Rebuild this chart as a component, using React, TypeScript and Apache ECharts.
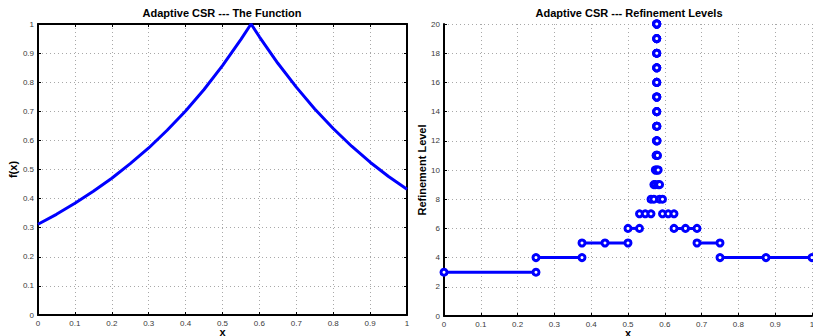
import React, { useEffect, useRef } from "react";
import * as echarts from "echarts";

// ---- Left panel: the function f(x) ----
const fxX = [0, 0.05, 0.1, 0.15, 0.2, 0.25, 0.3, 0.35, 0.4, 0.45, 0.5, 0.55, 0.5774, 0.6, 0.65, 0.7, 0.75, 0.8, 0.85, 0.9, 0.95, 1];
const fxY = [0.312, 0.346, 0.384, 0.425, 0.47, 0.52, 0.574, 0.635, 0.701, 0.775, 0.857, 0.947, 1.0, 0.956, 0.865, 0.783, 0.708, 0.641, 0.58, 0.525, 0.476, 0.432];

// ---- Right panel: refinement levels, one segment per run of leaf cells ----
const segLevels = [3, 4, 4, 5, 5, 6, 6, 7, 7, 8, 8, 9, 9, 10, 10, 11, 11, 12, 12, 13, 13, 14, 14, 15, 15, 16, 16, 17, 17, 18, 18, 19, 19, 20];
const segPoints = [
  [0, 0.25],
  [0.25, 0.375],
  [0.75, 0.875, 1],
  [0.375, 0.4375, 0.5],
  [0.6875, 0.75],
  [0.5, 0.53125],
  [0.625, 0.65625, 0.6875],
  [0.53125, 0.546875, 0.5625],
  [0.59375, 0.609375, 0.625],
  [0.5625, 0.5703],
  [0.5859, 0.59375],
  [0.5703, 0.5742],
  [0.582, 0.5859],
  [0.5742, 0.5762],
  [0.5801, 0.582],
  [0.5762, 0.5771],
  [0.5791, 0.5801],
  [0.5771, 0.5776],
  [0.5786, 0.5791],
  [0.5776, 0.5779],
  [0.5784, 0.5786],
  [0.5779, 0.578],
  [0.5782, 0.5784],
  [0.578, 0.5781],
  [0.5782, 0.5782],
  [0.5781, 0.5781],
  [0.5782, 0.5782],
  [0.5781, 0.5781],
  [0.5781, 0.5782],
  [0.5781, 0.5781],
  [0.5781, 0.5781],
  [0.5781, 0.5781],
  [0.5781, 0.5781],
  [0.5781, 0.5781, 0.5781, 0.5781, 0.5781],
];

const leftTitle = "Adaptive CSR --- The Function";
const rightTitle = "Adaptive CSR --- Refinement Levels";

const FONT = "'Liberation Sans', Arial, Helvetica, sans-serif";
const BLUE = "#0000ff";

export default function App() {
  const ref = useRef<HTMLDivElement>(null);

  useEffect(() => {
    if (!ref.current) return;
    const chart = echarts.init(ref.current, null, { renderer: "svg" });

    const axisLine = { show: true, onZero: false, lineStyle: { color: "#000", width: 2 } };
    const axisTick = { show: true, inside: true, length: 3, lineStyle: { color: "#000", width: 1 } };
    const axisLabel = { show: true, fontSize: 8, color: "#3a3a3a", fontFamily: FONT, margin: 4 };
    const splitLine = { show: true, lineStyle: { type: [1, 3] as any, color: "#a8a8a8", width: 1 } };
    const nameStyle = { fontSize: 11, fontWeight: "bold" as const, color: "#000", fontFamily: FONT };
    const xNameStyle = { ...nameStyle, lineHeight: 8 };

    const lineData = fxX.map((x, i) => [x, fxY[i]]);

    const segSeries = segPoints.map((pts, i) => ({
      type: "line" as const,
      xAxisIndex: 2,
      yAxisIndex: 2,
      data: pts.map((x) => [x, segLevels[i]]),
      symbol: "circle",
      symbolSize: 6,
      showSymbol: true,
      clip: false,
      itemStyle: { color: "#ffffff", borderColor: BLUE, borderWidth: 3 },
      lineStyle: { color: BLUE, width: 3 },
      emphasis: { disabled: true },
      z: 3,
    }));

    const option: any = {
      animation: false,
      backgroundColor: "#ffffff",
      title: [
        {
          text: leftTitle,
          left: 222,
          top: 7,
          padding: 0,
          textAlign: "center",
          textStyle: { fontSize: 11, fontWeight: "bold", color: "#000", fontFamily: FONT },
        },
        {
          text: rightTitle,
          left: 629,
          top: 7,
          padding: 0,
          textAlign: "center",
          textStyle: { fontSize: 11, fontWeight: "bold", color: "#000", fontFamily: FONT },
        },
      ],
      grid: [
        { left: 38, top: 24, width: 369, height: 291, containLabel: false, outerBoundsMode: "none" },
        { left: 444, top: 24, width: 368, height: 292, containLabel: false, outerBoundsMode: "none" },
      ],
      xAxis: [
        {
          gridIndex: 0, type: "value", min: 0, max: 1, interval: 0.1, position: "bottom",
          axisLine, axisTick, axisLabel, splitLine,
          name: "x", nameLocation: "middle", nameGap: 13, nameMoveOverlap: false, nameTextStyle: xNameStyle,
        },
        {
          gridIndex: 0, type: "value", min: 0, max: 1, interval: 0.1, position: "top",
          axisLine, axisTick, axisLabel: { show: false }, splitLine: { show: false },
        },
        {
          gridIndex: 1, type: "value", min: 0, max: 1, interval: 0.1, position: "bottom",
          axisLine, axisTick, axisLabel, splitLine,
          name: "x", nameLocation: "middle", nameGap: 13, nameMoveOverlap: false, nameTextStyle: xNameStyle,
        },
      ],
      yAxis: [
        {
          gridIndex: 0, type: "value", min: 0, max: 1, interval: 0.1, position: "left",
          axisLine, axisTick, axisLabel, splitLine,
          name: "f(x)", nameLocation: "middle", nameGap: 19, nameTextStyle: nameStyle,
        },
        {
          gridIndex: 0, type: "value", min: 0, max: 1, interval: 0.1, position: "right",
          axisLine, axisTick, axisLabel: { show: false }, splitLine: { show: false },
        },
        {
          gridIndex: 1, type: "value", min: 0, max: 20, interval: 2, position: "left",
          axisLine, axisTick, axisLabel, splitLine,
          name: "Refinement Level", nameLocation: "middle", nameGap: 17, nameTextStyle: nameStyle,
        },
      ],
      series: [
        {
          type: "line",
          xAxisIndex: 0,
          yAxisIndex: 0,
          data: lineData,
          showSymbol: false,
          symbol: "none",
          lineStyle: { color: BLUE, width: 3 },
          emphasis: { disabled: true },
          z: 3,
        },
        ...segSeries,
      ],
    };

    chart.setOption(option);
    return () => chart.dispose();
  }, []);

  return (
    <div
      ref={ref}
      style={{ position: "absolute", left: 0, top: 0, width: 813, height: 336, background: "#fff" }}
    />
  );
}
